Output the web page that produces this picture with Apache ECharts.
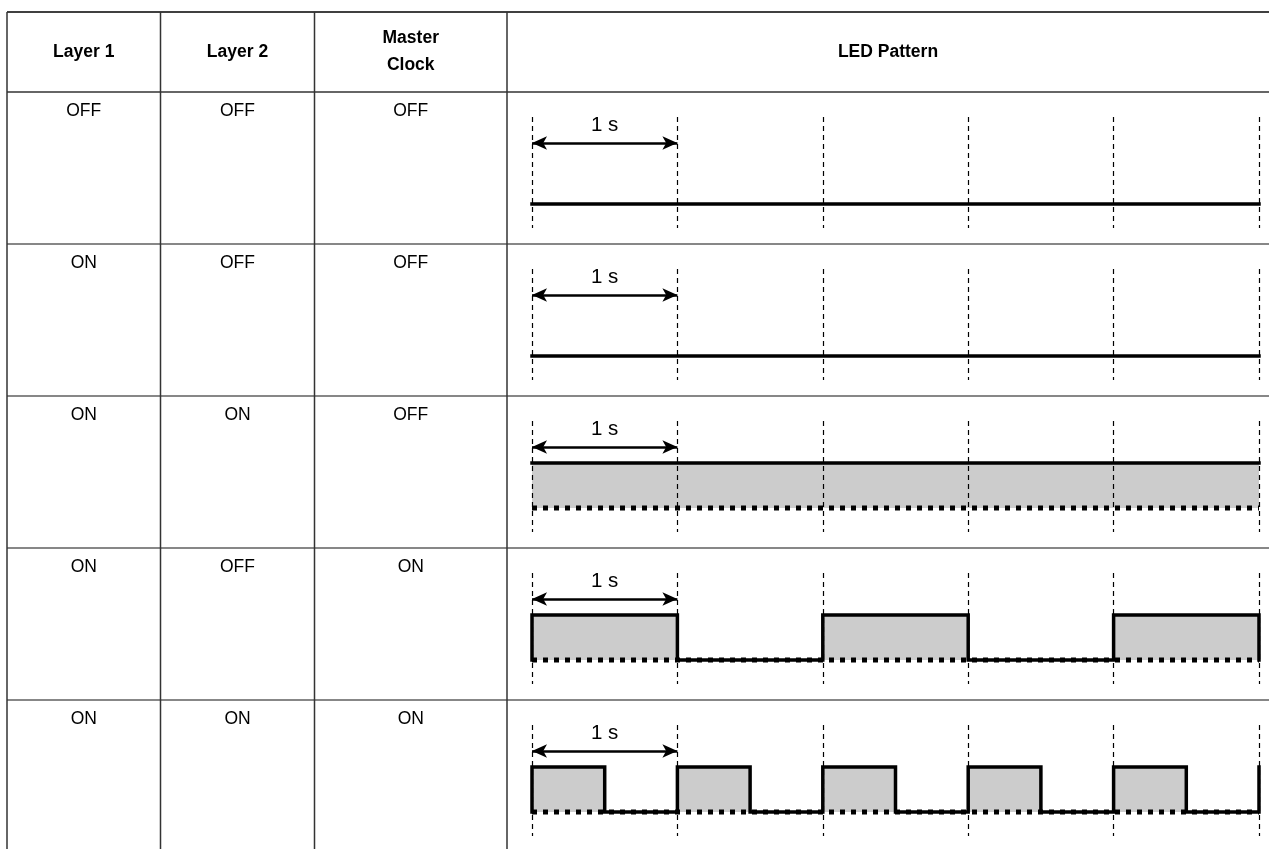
<!DOCTYPE html>
<html>
<head>
<meta charset="utf-8">
<script src="https://cdn.jsdelivr.net/npm/echarts@6/dist/echarts.min.js"></script>
<style>
html,body{margin:0;padding:0;background:#fff;}
#chart{width:1269px;height:849px;}
</style>
</head>
<body>
<div id="chart"></div>
<script>
// ---------------- DATA ----------------
const headerLabels = ['Layer 1', 'Layer 2', 'Master\nClock', 'LED Pattern'];
const layer1 = ['OFF', 'ON', 'ON', 'ON', 'ON'];
const layer2 = ['OFF', 'OFF', 'ON', 'OFF', 'ON'];
const masterClock = ['OFF', 'OFF', 'OFF', 'ON', 'ON'];

// LED waveforms: [time (s), level (0 = off, 1 = on)]
const ledWave1 = [[0, 0], [5, 0]];
const ledWave2 = [[0, 0], [5, 0]];
const ledWave3 = [[0, 1], [5, 1]];
const ledWave4 = [[0, 0], [0, 1], [1, 1], [1, 0], [2, 0], [2, 1], [3, 1], [3, 0], [4, 0], [4, 1], [5, 1], [5, 0]];
const ledWave5 = [[0, 0], [0, 1], [0.5, 1], [0.5, 0], [1, 0], [1, 1], [1.5, 1], [1.5, 0], [2, 0], [2, 1], [2.5, 1], [2.5, 0],
                  [3, 0], [3, 1], [3.5, 1], [3.5, 0], [4, 0], [4, 1], [4.5, 1], [4.5, 0], [5, 0], [5, 1]];
const ledFilled = [false, false, true, true, true];
const ledBaseline = [[0, 0], [5, 0]];
const timeSpan = [0, 5];
const periodMarker = [0, 1];
const periodLabel = '1 s';

// ---------------- LAYOUT ----------------
const W = 1269, H = 849;
const colX = [7, 160.5, 314.5, 507, W];
const tableTop = 12, headerBottom = 92;
const rowTops = [92, 244, 396, 548, 700];
const gridTopOff = 25, gridH = 111;
const yMax = 1.933, yMin = -0.533;
const arrowY = 1.356;
const FONT = '"Liberation Sans", Arial, Helvetica, sans-serif';

const waves = [ledWave1, ledWave2, ledWave3, ledWave4, ledWave5];
const cols = [layer1, layer2, masterClock];

const graphic = [];
// table lines
graphic.push({type: 'line', shape: {x1: colX[0], y1: tableTop, x2: W, y2: tableTop}, style: {stroke: '#000', lineWidth: 1.5}});
graphic.push({type: 'line', shape: {x1: colX[0], y1: headerBottom, x2: W, y2: headerBottom}, style: {stroke: '#333', lineWidth: 1.5}});
rowTops.slice(1).forEach(y => {
  graphic.push({type: 'line', shape: {x1: colX[0], y1: y, x2: W, y2: y}, style: {stroke: '#111', lineWidth: 1.2}});
});
colX.slice(0, 4).forEach(x => {
  graphic.push({type: 'line', shape: {x1: x, y1: tableTop, x2: x, y2: H}, style: {stroke: '#333', lineWidth: 1.5}});
});
// header texts
headerLabels.forEach((t, i) => {
  const cx = (colX[i] + colX[i + 1]) / 2;
  graphic.push({type: 'text', style: {text: t, x: cx, y: (tableTop + headerBottom) / 2,
    textAlign: 'center', textVerticalAlign: 'middle', align: 'center', verticalAlign: 'middle',
    font: 'bold 17.5px ' + FONT, lineHeight: 27, fill: '#000'}});
});
// cell texts
cols.forEach((col, c) => {
  const cx = (colX[c] + colX[c + 1]) / 2;
  col.forEach((t, r) => {
    graphic.push({type: 'text', style: {text: t, x: cx, y: rowTops[r] + 19,
      textAlign: 'center', textVerticalAlign: 'middle', align: 'center', verticalAlign: 'middle',
      font: '17.5px ' + FONT, fill: '#000'}});
  });
});

const grids = [], xAxes = [], yAxes = [], series = [];
waves.forEach((wave, i) => {
  grids.push({left: 532, right: W - 1259, top: rowTops[i] + gridTopOff, height: gridH, containLabel: false});
  xAxes.push({type: 'value', gridIndex: i, min: timeSpan[0], max: timeSpan[1], interval: 1, z: 5,
    axisLine: {show: false}, axisTick: {show: false}, axisLabel: {show: false},
    splitLine: {show: true, showMinLine: true, showMaxLine: true, lineStyle: {color: '#000', width: 1.2, type: [5, 4]}}});
  yAxes.push({type: 'value', gridIndex: i, min: yMin, max: yMax,
    axisLine: {show: false}, axisTick: {show: false}, axisLabel: {show: false}, splitLine: {show: false}});
  const s = {type: 'line', xAxisIndex: i, yAxisIndex: i, data: wave, symbol: 'none', animation: false, z: 3,
    lineStyle: {color: '#000', width: 3.5, cap: 'square', join: 'miter'},
    markLine: {silent: true, animation: false, symbol: ['arrow', 'arrow'], symbolSize: [10, 15],
      lineStyle: {color: '#000', width: 2.5, type: 'solid'},
      label: {show: true, formatter: periodLabel, position: 'middle', distance: 7, fontSize: 20.5, color: '#000', fontFamily: FONT},
      emphasis: {disabled: true},
      data: [[{coord: [periodMarker[0], arrowY]}, {coord: [periodMarker[1], arrowY]}]]}};
  if (ledFilled[i]) s.areaStyle = {color: '#cccccc', opacity: 1, origin: 0};
  series.push(s);
  if (ledFilled[i]) {
    series.push({type: 'line', xAxisIndex: i, yAxisIndex: i, data: ledBaseline, symbol: 'none', animation: false, z: 4,
      lineStyle: {color: '#000', width: 5, type: [5, 6], cap: 'butt'}});
  }
});

const chart = echarts.init(document.getElementById('chart'), null, {renderer: 'canvas'});
chart.setOption({
  backgroundColor: '#fff',
  animation: false,
  grid: grids, xAxis: xAxes, yAxis: yAxes, series: series,
  graphic: graphic
});
</script>
</body>
</html>
